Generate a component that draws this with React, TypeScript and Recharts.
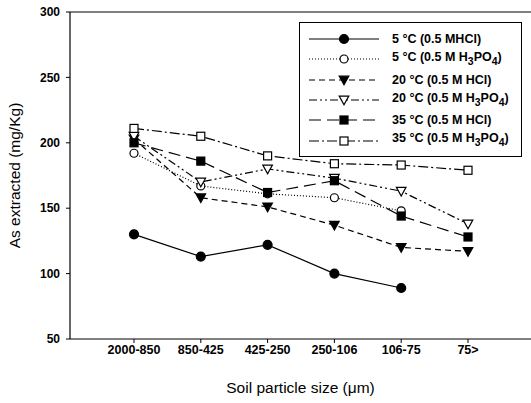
import React from 'react';
import {
  LineChart,
  Line,
  XAxis,
  YAxis,
  ReferenceLine,
  Label,
} from 'recharts';

const sizes = ['2000-850', '850-425', '425-250', '250-106', '106-75', '75>'];

const hcl5 = [130, 113, 122, 100, 89, null];
const phos5 = [192, 167, 161, 158, 148, null];
const hcl20 = [203, 158, 151, 137, 120, 117];
const phos20 = [205, 170, 180, 173, 163, 138];
const hcl35 = [200, 186, 162, 171, 144, 128];
const phos35 = [211, 205, 190, 184, 183, 179];

const data = sizes.map((size, i) => ({
  size,
  hcl5: hcl5[i],
  phos5: phos5[i],
  hcl20: hcl20[i],
  phos20: phos20[i],
  hcl35: hcl35[i],
  phos35: phos35[i],
}));

type Shape = 'circle' | 'triangle' | 'square';

const Marker = ({ cx, cy, shape, filled }: { cx: number; cy: number; shape: Shape; filled: boolean }) => {
  const fill = filled ? '#000' : '#fff';
  if (shape === 'circle') {
    return <circle cx={cx} cy={cy} r={filled ? 4.5 : 4} fill={fill} stroke="#000" strokeWidth={1.2} />;
  }
  if (shape === 'triangle') {
    const s = 4.8;
    return (
      <polygon
        points={`${cx - s},${cy - s * 0.8} ${cx + s},${cy - s * 0.8} ${cx},${cy + s}`}
        fill={fill}
        stroke="#000"
        strokeWidth={1.2}
      />
    );
  }
  return <rect x={cx - 4} y={cy - 4} width={8} height={8} fill={fill} stroke="#000" strokeWidth={1.2} />;
};

const series = [
  { key: 'hcl5', dash: undefined, shape: 'circle' as Shape, filled: true, label: <>5 °C (0.5 MHCl)</> },
  { key: 'phos5', dash: '1 2', shape: 'circle' as Shape, filled: false, label: <>5 °C (0.5 M H<sub>3</sub>PO<sub>4</sub>)</> },
  { key: 'hcl20', dash: '6 4', shape: 'triangle' as Shape, filled: true, label: <>20 °C (0.5 M HCl)</> },
  { key: 'phos20', dash: '8 3 2 3 2 3', shape: 'triangle' as Shape, filled: false, label: <>20 °C (0.5 M H<sub>3</sub>PO<sub>4</sub>)</> },
  { key: 'hcl35', dash: '12 6', shape: 'square' as Shape, filled: true, label: <>35 °C (0.5 M HCl)</> },
  { key: 'phos35', dash: '10 3 2 3', shape: 'square' as Shape, filled: false, label: <>35 °C (0.5 M H<sub>3</sub>PO<sub>4</sub>)</> },
];

const font = 'Arial, "Liberation Sans", sans-serif';

const LegendBox = () => (
  <div
    style={{
      position: 'absolute',
      left: 299,
      top: 22,
      border: '1.5px solid #000',
      background: '#fff',
      padding: '6px 0 4px 8px',
      fontFamily: font,
      fontWeight: 'bold',
      fontSize: 12.5,
      boxSizing: 'border-box',
      width: 223,
      height: 135,
    }}
  >
    {series.map((s) => (
      <div key={s.key} style={{ display: 'flex', alignItems: 'center', height: 20.3 }}>
        <svg width={72} height={14} style={{ flex: 'none' }}>
          <line x1={1} y1={7} x2={71} y2={7} stroke="#000" strokeWidth={1.2} strokeDasharray={s.dash} />
          <Marker cx={36} cy={7} shape={s.shape} filled={s.filled} />
        </svg>
        <span style={{ marginLeft: 12, whiteSpace: 'nowrap', lineHeight: '14px' }}>{s.label}</span>
      </div>
    ))}
  </div>
);

const xTickFont = { fontFamily: font, fontWeight: 'bold' as const, fontSize: 12.5, fill: '#000' };
const yTickFont = { fontFamily: font, fontWeight: 'bold' as const, fontSize: 12, fill: '#000' };

export default function App() {
  return (
    <div style={{ position: 'absolute', left: 0, top: 0, width: 531, height: 403, background: '#fff' }}>
      <LineChart width={531} height={403} data={data} margin={{ top: 12, right: 0, bottom: 34, left: 0 }}>
        <XAxis
          dataKey="size"
          padding={{ left: 64, right: 63 }}
          tick={xTickFont}
          tickSize={4}
          axisLine={{ stroke: '#000', strokeWidth: 1.2 }}
          tickLine={{ stroke: '#000' }}
          height={30}
          interval={0}
        >
          <Label
            value="Soil particle size (μm)"
            position="insideBottom"
            offset={-24}
            style={{ fontFamily: font, fontSize: 15.5, fill: '#000' }}
          />
        </XAxis>
        <YAxis
          domain={[50, 300]}
          ticks={[50, 100, 150, 200, 250, 300]}
          width={70}
          tick={{ ...yTickFont, dx: -4 }}
          tickSize={4}
          axisLine={{ stroke: '#000', strokeWidth: 1.2 }}
          tickLine={{ stroke: '#000' }}
        >
          <Label
            value="As extracted (mg/Kg)"
            angle={-90}
            position="insideLeft"
            offset={14}
            style={{ textAnchor: 'middle', fontFamily: font, fontSize: 15.5, fill: '#000' }}
          />
        </YAxis>
        <ReferenceLine y={300} stroke="#000" strokeWidth={1.2} />
        {series.map((s) => (
          <Line
            key={s.key}
            dataKey={s.key}
            stroke="#000"
            strokeWidth={1.2}
            strokeDasharray={s.dash}
            isAnimationActive={false}
            connectNulls={false}
            dot={(p: any) =>
              p.value == null ? <g key={p.index} /> : (
                <Marker key={`${s.key}-${p.index}`} cx={p.cx} cy={p.cy} shape={s.shape} filled={s.filled} />
              )
            }
            activeDot={false}
            legendType="none"
          />
        ))}
      </LineChart>
      <LegendBox />
    </div>
  );
}
